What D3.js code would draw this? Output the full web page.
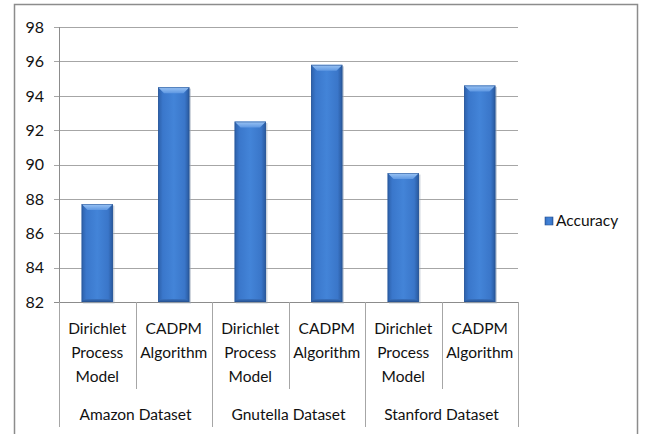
<!DOCTYPE html>
<html><head><meta charset="utf-8">
<script src="https://cdn.jsdelivr.net/npm/d3@7"></script>
<style>body{margin:0;background:#fff}svg{display:block}text{font-family:Lato,"Open Sans",sans-serif;fill:#111}</style>
</head><body><svg id="c" width="647" height="434"></svg>
<script>
const groups = ["Amazon Dataset","Gnutella Dataset","Stanford Dataset"];
const methods = ["Dirichlet Process Model","CADPM Algorithm"];
const methodLines = [["Dirichlet","Process","Model"],["CADPM","Algorithm"]];
const accuracy = [87.7, 94.5, 92.5, 95.8, 89.5, 94.6];
const yTicks = [82,84,86,88,90,92,94,96,98];
const seriesName = "Accuracy";

const cats = [];
groups.forEach((g,gi)=>methods.forEach((m,mi)=>cats.push({g,gi,m,mi,v:accuracy[gi*methods.length+mi]})));

const svg = d3.select("#c");
const L=59,R=518,T=27,B=302;
const x = d3.scaleBand().domain(d3.range(cats.length)).range([L,R]).paddingInner(0).paddingOuter(0);
const y = d3.scaleLinear().domain([82,98]).range([B,T]);

const defs = svg.append("defs");
const g1 = defs.append("linearGradient").attr("id","bg").attr("x1","0").attr("x2","1").attr("y1","0").attr("y2","0");
[[0,"#2c5fa8"],[0.15,"#3a77cb"],[0.5,"#4384d8"],[0.85,"#3a76c9"],[1,"#28579b"]].forEach(s=>g1.append("stop").attr("offset",s[0]).attr("stop-color",s[1]));
const g2 = defs.append("linearGradient").attr("id","bev").attr("x1","0").attr("x2","0").attr("y1","0").attr("y2","1");
[[0,"#9cc5f5"],[1,"#5f98e2"]].forEach(s=>g2.append("stop").attr("offset",s[0]).attr("stop-color",s[1]));
const g3 = defs.append("linearGradient").attr("id","bot").attr("x1","0").attr("x2","0").attr("y1","0").attr("y2","1");
[[0,"#3a72bf"],[1,"#24508f"]].forEach(s=>g3.append("stop").attr("offset",s[0]).attr("stop-color",s[1]));

// outer border
svg.append("rect").attr("x",14.5).attr("y",4.5).attr("width",623).attr("height",440).attr("fill","none").attr("stroke","#8c8c8c").attr("stroke-width",1.5);

// gridlines
svg.append("g").selectAll("line").data(yTicks).join("line")
  .attr("x1",L-5).attr("x2",R).attr("y1",d=>Math.round(y(d))+0.5).attr("y2",d=>Math.round(y(d))+0.5)
  .attr("stroke",d=>d===82?"#8c8c8c":"#a6a6a6").attr("stroke-width",1);
svg.append("line").attr("x1",L+0.5).attr("x2",L+0.5).attr("y1",T).attr("y2",B).attr("stroke","#8c8c8c");

// y labels
svg.append("g").selectAll("text").data(yTicks).join("text")
  .attr("x",44).attr("y",d=>y(d)).attr("dy","0.36em").attr("text-anchor","end")
  .style("font-size","16px").text(d=>d);

// bars
const bw = x.bandwidth()*0.41;
const bars = svg.append("g").selectAll("g").data(cats).join("g")
  .attr("transform",(d,i)=>`translate(${x(i)+x.bandwidth()/2-bw/2},0)`);
bars.append("rect").attr("x",1.5).attr("y",d=>y(d.v)+1.5).attr("width",bw).attr("height",d=>B-y(d.v)).attr("fill","#9aa7b8").attr("opacity",0.5);
bars.append("rect").attr("x",0).attr("y",d=>y(d.v)).attr("width",bw).attr("height",d=>B-y(d.v)).attr("fill","url(#bg)");
const bev=6;
bars.append("path").attr("d",d=>{const t=y(d.v);return `M0,${t}L${bw},${t}L${bw-bev},${t+bev}L${bev},${t+bev}Z`;}).attr("fill","url(#bev)");
bars.append("path").attr("d",d=>`M0,${B}L${bw},${B}L${bw-3},${B-3}L3,${B-3}Z`).attr("fill","url(#bot)");
bars.append("rect").attr("x",0.5).attr("y",d=>y(d.v)+0.5).attr("width",bw-1).attr("height",d=>B-y(d.v)-1).attr("fill","none").attr("stroke","#2a5596").attr("stroke-width",0.8).attr("opacity",0.7);

// category separators
const sep = svg.append("g");
d3.range(cats.length+1).forEach(i=>{
  const xx = Math.round(i<cats.length?x(i):R)+0.5;
  const isGroup = i%methods.length===0;
  sep.append("line").attr("x1",xx).attr("x2",xx).attr("y1",B).attr("y2",isGroup?427:389).attr("stroke","#a6a6a6");
});

// category labels
const cl = svg.append("g");
cats.forEach((d,i)=>{
  const cx = x(i)+x.bandwidth()/2;
  methodLines[d.mi].forEach((ln,k)=>{
    cl.append("text").attr("x",cx).attr("y",329+k*24).attr("dy","0.35em").attr("text-anchor","middle").style("font-size","15.5px").text(ln);
  });
});
groups.forEach((g,gi)=>{
  const cx = (x(gi*2)+x(gi*2+1)+x.bandwidth())/2;
  cl.append("text").attr("x",cx).attr("y",415).attr("dy","0.35em").attr("text-anchor","middle").style("font-size","15.5px").text(g);
});

// legend
const lg = svg.append("g").attr("transform","translate(545,217)");
lg.append("rect").attr("width",8).attr("height",8).attr("fill","url(#bg)").attr("stroke","#2a5596").attr("stroke-width",0.6);
lg.append("text").attr("x",11).attr("y",4).attr("dy","0.35em").style("font-size","15.5px").text(seriesName);
</script></body></html>
